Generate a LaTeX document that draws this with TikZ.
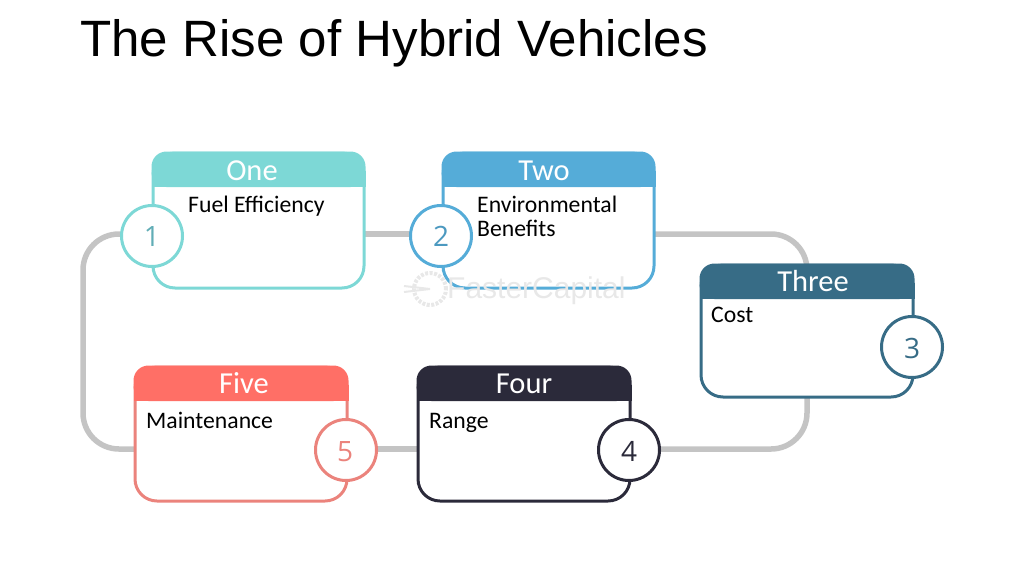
\documentclass[tikz,border=0pt]{standalone}
\usepackage{fontspec}
\setmainfont{Carlito}
\newfontfamily\titlefont{Liberation Sans}
\newfontfamily\numfont{Open Sans}
\usetikzlibrary{backgrounds,calc}
\definecolor{cOne}{HTML}{7DD8D6}
\definecolor{cTwo}{HTML}{55ACD8}
\definecolor{cThree}{HTML}{376C86}
\definecolor{cFour}{HTML}{2B2A3A}
\definecolor{cFive}{HTML}{FF6F66}
\definecolor{cFiveLine}{HTML}{EB837C}
\definecolor{link}{HTML}{C4C4C4}
\definecolor{wmgray}{HTML}{E8E8E8}
\tikzset{
  x=1pt,y=-1pt,
  card/.style={draw=#1,line width=3pt,fill=white,rounded corners=22pt,inner sep=0pt,anchor=north west,outer sep=0pt},
  badge/.style={circle,draw=#1,line width=3pt,fill=white,minimum size=61pt,inner sep=0pt,outer sep=1pt},
  head/.style={text=white,font=\fontsize{30.5}{30}\selectfont,anchor=base,inner sep=0pt},
  body/.style={text=black,font=\fontsize{23.7}{24}\selectfont,anchor=base west,inner sep=0pt},
  num/.style={font=\fontsize{28}{28}\selectfont\numfont,text=#1,anchor=base,inner sep=0pt},
  linkline/.style={draw=link,line width=5.5pt,rounded corners=36pt},
}
\newcommand{\cardbox}[7]{%
  % name, x, y, w, h, line colour, header colour
  \node[card=#6,minimum width=#4pt,minimum height=#5pt] (#1) at (#2,#3) {};
  \fill[#7,rounded corners=15pt] (#1.north west) ++(-1.5,-1.5) -- ++(0,35.5) -- ++(#4+3,0) -- ++(0,-35.5) -- cycle;
  \fill[#7] ($(#1.north west)+(-1.5,18)$) rectangle ($(#1.north east)+(1.5,34)$);
}
\begin{document}
\begin{tikzpicture}
\useasboundingbox (0,0) rectangle (1024,576);

\node[anchor=base west,inner sep=0pt,font=\fontsize{51.1}{51}\selectfont\titlefont,text=black] (title) at (80,56.5) {The Rise of Hybrid Vehicles};

\cardbox{b1}{153}{153}{211}{135}{cOne}{cOne}
\cardbox{b2}{443}{153}{211}{135}{cTwo}{cTwo}
\cardbox{b3}{701}{265}{212}{132}{cThree}{cThree}
\cardbox{b4}{418}{367}{212}{134}{cFour}{cFour}
\cardbox{b5}{135}{367}{212}{134}{cFiveLine}{cFive}

\node[badge=cOne] (c1) at (152,236) {};
\node[badge=cTwo] (c2) at (441,236) {};
\node[badge=cThree] (c3) at (912,347) {};
\node[badge=cFour] (c4) at (629,450) {};
\node[badge=cFiveLine] (c5) at (346,450) {};

\node[num={cOne!60!cThree}] (n1) at (152,246) {1};
\node[num={cTwo!70!cThree}] (n2) at (441,246) {2};
\node[num=cThree] (n3) at (912,358) {3};
\node[num=cFour] (n4) at (629,461) {4};
\node[num=cFiveLine] (n5) at (345,461) {5};

\node[head] (h1) at (252,180) {One};
\node[head] (h2) at (544,180) {Two};
\node[head] (h3) at (813,291) {Three};
\node[head] (h4) at (524,393) {Four};
\node[head] (h5) at (244,393) {Five};

\node[body] (t1) at (188,212) {Fuel Efficiency};
\node[body] (t2a) at (477,212) {Environmental};
\node[body] (t2b) at (477,236) {Benefits};
\node[body] (t3) at (711,322) {Cost};
\node[body] (t4) at (429,428) {Range};
\node[body] (t5) at (146,428) {Maintenance};

\node[anchor=base west,inner sep=0pt,text=wmgray,font=\fontsize{30}{30}\selectfont\titlefont] (wm) at (447,298) {FasterCapital};
\node[circle,draw=wmgray,line width=4pt,dash pattern=on 3pt off 1.5pt,minimum size=32pt,inner sep=0pt] (wmg) at (430,289) {};
\draw[wmgray,line width=2pt] (404,286) -- (wmg.center);
\draw[wmgray,line width=2pt] (404,292) -- (wmg.center);

\coordinate (k1) at (807,234);
\coordinate (k2) at (807,449);
\coordinate (k3) at (83,449);
\coordinate (k4) at (83,234);

\begin{scope}[on background layer]
\draw[linkline] (c1.center |- k1) -- (c2.center |- k1);
\draw[linkline] (b2.east |- k1) -- (k1) -- (k1 |- b3.north);
\draw[linkline] (k1 |- b3.south) -- (k2) -- (c4.center |- k2);
\draw[linkline] (c5.center |- k2) -- (b4.west |- k2);
\draw[linkline] (b5.west |- k3) -- (k3) -- (k4) -- (c1.center |- k4);
\end{scope}
\end{tikzpicture}
\end{document}
